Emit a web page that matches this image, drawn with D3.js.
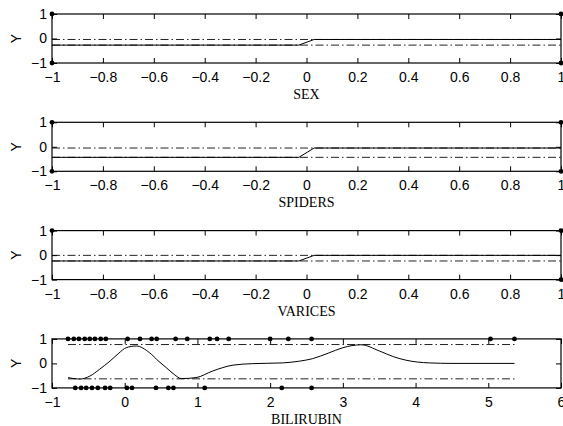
<!DOCTYPE html>
<html>
<head>
<meta charset="utf-8">
<script src="https://cdn.jsdelivr.net/npm/d3@7"></script>
<style>
  body { margin: 0; background: #fff; }
  svg { display: block; }
</style>
</head>
<body>
<div id="chart"></div>
<script>
// panel names (x labels)
const panelNames = ["SEX", "SPIDERS", "VARICES", "BILIRUBIN"];

// binary variables: fitted step curve + band levels
const stepX = [-1, -0.03, 0.03, 1];
const sexFit = [-0.27, -0.27, -0.04, -0.04];
const sexBands = [-0.04, -0.27];
const spidersFit = [-0.43, -0.43, -0.05, -0.05];
const spidersBands = [-0.05, -0.43];
const varicesFit = [-0.24, -0.24, -0.01, -0.01];
const varicesBands = [-0.01, -0.24];

// observed points (x, y=+-1)
const sexPoints = [[-1, 1], [-1, -1], [1, 1], [1, -1]];
const spidersPoints = [[-1, 1], [-1, -1], [1, 1], [1, -1]];
const varicesPoints = [[-1, 1], [1, 1], [1, -1]];

// bilirubin fitted curve
const biliX = [-0.78, -0.62, -0.48, -0.35, -0.20, -0.08, 0.02, 0.16, 0.34, 0.47, 0.57, 0.68, 0.78, 0.98, 1.21, 1.49, 1.76, 2.17, 2.40, 2.58, 2.80, 3.0, 3.25, 3.50, 3.70, 3.87, 4.19, 4.5, 5.36];
const biliY = [-0.58, -0.64, -0.52, -0.25, 0.10, 0.42, 0.64, 0.71, 0.44, 0.08, -0.17, -0.45, -0.62, -0.58, -0.31, -0.07, -0.01, 0.02, 0.09, 0.19, 0.42, 0.64, 0.76, 0.51, 0.27, 0.13, 0.02, 0.0, 0.0];
const biliBands = [0.77, -0.63];
const biliRange = [-0.78, 5.36];
const biliTop = [-0.78, -0.70, -0.63, -0.55, -0.48, -0.41, -0.33, -0.26, 0.04, 0.21, 0.37, 0.44, 0.70, 0.86, 1.17, 1.27, 1.43, 2.0, 2.25, 2.57, 5.03, 5.36];
const biliBottom = [-0.68, -0.60, -0.53, -0.45, -0.37, -0.27, -0.20, 0.03, 0.10, 0.43, 0.60, 0.67, 1.10, 2.16, 2.57];

// ticks
const binTicks = [-1, -0.8, -0.6, -0.4, -0.2, 0, 0.2, 0.4, 0.6, 0.8, 1];
const biliTicks = [-1, 0, 1, 2, 3, 4, 5, 6];
const yTicks = [-1, 0, 1];

const width = 563, height = 426;
const left = 52, right = 561;
const panelTop0 = 14, panelStep = 108.3, panelH = 49;

const svg = d3.select("#chart").append("svg")
  .attr("width", width)
  .attr("height", height);

const tickFmt = d => d3.format("")(d);

const panels = [
  { name: panelNames[0], domain: [-1, 1], ticks: binTicks, xs: stepX, ys: sexFit, bands: sexBands, bandRange: [-1, 1], points: sexPoints },
  { name: panelNames[1], domain: [-1, 1], ticks: binTicks, xs: stepX, ys: spidersFit, bands: spidersBands, bandRange: [-1, 1], points: spidersPoints },
  { name: panelNames[2], domain: [-1, 1], ticks: binTicks, xs: stepX, ys: varicesFit, bands: varicesBands, bandRange: [-1, 1], points: varicesPoints },
  { name: panelNames[3], domain: [-1, 6], ticks: biliTicks, xs: biliX, ys: biliY, bands: biliBands, bandRange: biliRange,
    points: biliTop.map(v => [v, 1]).concat(biliBottom.map(v => [v, -1])), smooth: true }
];

panels.forEach((p, i) => {
  const top = panelTop0 + i * panelStep;
  const bottom = top + panelH;

  const x = d3.scaleLinear().domain(p.domain).range([left, right]);
  const y = d3.scaleLinear().domain([-1, 1]).range([bottom, top]);

  const g = svg.append("g");

  // dash-dot bands
  p.bands.forEach(b => {
    g.append("line")
      .attr("x1", x(p.bandRange[0])).attr("x2", x(p.bandRange[1]))
      .attr("y1", y(b)).attr("y2", y(b))
      .attr("stroke", "#222")
      .attr("stroke-width", 1)
      .attr("stroke-dasharray", "8,3,1.5,3");
  });

  // fitted curve
  const line = d3.line()
    .x(d => x(d[0]))
    .y(d => y(d[1]))
    .curve(p.smooth ? d3.curveMonotoneX : d3.curveLinear);
  g.append("path")
    .datum(p.xs.map((v, k) => [v, p.ys[k]]))
    .attr("d", line)
    .attr("fill", "none")
    .attr("stroke", "#000")
    .attr("stroke-width", 1);

  // box
  g.append("rect")
    .attr("x", left).attr("y", top)
    .attr("width", right - left).attr("height", panelH)
    .attr("fill", "none")
    .attr("stroke", "#000")
    .attr("stroke-width", 1.2);

  // inside ticks
  const xb = g.append("g")
    .attr("transform", `translate(0,${bottom})`)
    .call(d3.axisBottom(x).tickValues(p.ticks).tickFormat(tickFmt).tickSizeInner(-5).tickSizeOuter(0).tickPadding(9));
  const xt = g.append("g")
    .attr("transform", `translate(0,${top})`)
    .call(d3.axisTop(x).tickValues(p.ticks).tickFormat("").tickSizeInner(-5).tickSizeOuter(0));
  const yl = g.append("g")
    .attr("transform", `translate(${left},0)`)
    .call(d3.axisLeft(y).tickValues(yTicks).tickFormat(tickFmt).tickSizeInner(-5).tickSizeOuter(0).tickPadding(5));
  const yr = g.append("g")
    .attr("transform", `translate(${right},0)`)
    .call(d3.axisRight(y).tickValues(yTicks).tickFormat("").tickSizeInner(-5).tickSizeOuter(0));

  [xb, xt, yl, yr].forEach(a => {
    a.select(".domain").remove();
    a.selectAll("line").attr("stroke", "#000");
    a.selectAll("text")
      .attr("fill", "#000")
      .style("font-family", "'Liberation Sans', Arial, sans-serif")
      .style("font-size", "14px");
  });

  // data points
  g.selectAll("circle.pt")
    .data(p.points)
    .enter()
    .append("circle")
    .attr("class", "pt")
    .attr("cx", d => x(d[0]))
    .attr("cy", d => y(d[1]))
    .attr("r", 2.4)
    .attr("fill", "#000");

  // x label
  svg.append("text")
    .attr("x", (left + right) / 2)
    .attr("y", bottom + 36)
    .attr("text-anchor", "middle")
    .style("font-family", "'Liberation Serif', 'Times New Roman', serif")
    .style("font-size", "14px")
    .text(p.name);

  // y label
  svg.append("text")
    .attr("transform", `translate(21,${(top + bottom) / 2}) rotate(-90)`)
    .attr("text-anchor", "middle")
    .style("font-family", "'Liberation Sans', Arial, sans-serif")
    .style("font-size", "14px")
    .text("Y");
});
</script>
</body>
</html>
